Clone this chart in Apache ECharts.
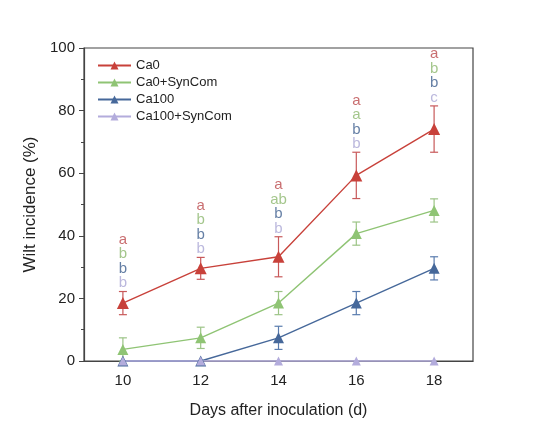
<!DOCTYPE html>
<html lang="en">
<head>
    <meta charset="UTF-8">
    <title>Wilt incidence</title>
    <script src="https://cdn.jsdelivr.net/npm/echarts@6/dist/echarts.min.js"></script>
    <style>
        html, body { margin: 0; padding: 0; background: #fff; }
        #chart { width: 553px; height: 445px; }
    </style>
</head>
<body>
    <div id="chart"></div>
    <script>
        // days after inoculation
        var days = [10, 12, 14, 16, 18];

        // mean wilt incidence (%) and error
        var ca0 = [18.5, 29.6, 33.3, 59.3, 74.1];
        var ca0Err = [3.7, 3.5, 6.4, 7.4, 7.4];
        var ca0Syn = [3.7, 7.4, 18.5, 40.7, 48.1];
        var ca0SynErr = [3.7, 3.4, 3.7, 3.7, 3.7];
        var ca100 = [0, 0, 7.4, 18.5, 29.6];
        var ca100Err = [0, 0, 3.7, 3.7, 3.7];
        var ca100Syn = [0, 0, 0, 0, 0];
        var ca100SynErr = [0, 0, 0, 0, 0];

        // significance letters (top to bottom)
        var letCa0 = ['a', 'a', 'a', 'a', 'a'];
        var letCa0Syn = ['b', 'b', 'ab', 'a', 'b'];
        var letCa100 = ['b', 'b', 'b', 'b', 'b'];
        var letCa100Syn = ['b', 'b', 'b', 'b', 'c'];

        var yTicks = [0, 20, 40, 60, 80, 100];

        var names = ['Ca0', 'Ca0+SynCom', 'Ca100', 'Ca100+SynCom'];
        var colors = ['#c8413a', '#8fc474', '#46689a', '#b3acdc'];
        var barColors = ['#c8595a', '#9cc486', '#5a7cae', '#bab4e0'];
        var letterColors = ['#bb4a4c', '#8db86f', '#3f5f8f', '#aaa6d4'];
        var means = [ca0, ca0Syn, ca100, ca100Syn];
        var errs = [ca0Err, ca0SynErr, ca100Err, ca100SynErr];

        function pairs(arr) {
            var out = [];
            for (var i = 0; i < days.length; i++) out.push([days[i], arr[i]]);
            return out;
        }

        var series = [];
        // error bars
        for (var s = 0; s < 4; s++) {
            var d = [];
            for (var i = 0; i < days.length; i++) d.push([days[i], means[s][i], errs[s][i]]);
            (function (col) {
                series.push({
                    type: 'custom',
                    z: 2,
                    silent: true,
                    data: d,
                    renderItem: function (params, api) {
                        var x = api.value(0), m = api.value(1), e = api.value(2);
                        if (!e) return null;
                        var top = api.coord([x, m + e]);
                        var bot = api.coord([x, m - e]);
                        var w = 4;
                        var st = { stroke: col, lineWidth: 1.2 };
                        return {
                            type: 'group',
                            children: [
                                { type: 'line', shape: { x1: top[0], y1: top[1], x2: bot[0], y2: bot[1] }, style: st },
                                { type: 'line', shape: { x1: top[0] - w, y1: top[1], x2: top[0] + w, y2: top[1] }, style: st },
                                { type: 'line', shape: { x1: bot[0] - w, y1: bot[1], x2: bot[0] + w, y2: bot[1] }, style: st }
                            ]
                        };
                    }
                });
            })(barColors[s]);
        }
        // lines
        for (var s = 0; s < 4; s++) {
            series.push({
                name: names[s],
                type: 'line',
                z: 3,
                data: pairs(means[s]),
                symbol: 'triangle',
                symbolSize: s === 0 ? 12 : (s === 3 ? 9 : 11),
                lineStyle: { color: colors[s], width: 1.4 },
                itemStyle: { color: colors[s] },
                clip: false
            });
        }
        // letters above the Ca0 error bars
        var letterData = [];
        for (var i = 0; i < days.length; i++) {
            letterData.push({
                value: [days[i], ca0[i] + ca0Err[i]],
                label: {
                    formatter: '{r|' + letCa0[i] + '}\n{g|' + letCa0Syn[i] + '}\n{b|' + letCa100[i] + '}\n{p|' + letCa100Syn[i] + '}'
                }
            });
        }
        series.push({
            type: 'scatter',
            symbolSize: 0,
            silent: true,
            z: 4,
            data: letterData,
            label: {
                show: true,
                position: 'top',
                distance: 1,
                align: 'center',
                fontFamily: 'Liberation Sans, Arial, sans-serif',
                fontSize: 15,
                lineHeight: 14.5,
                rich: {
                    r: { color: letterColors[0], fontSize: 15, lineHeight: 14.5, fontFamily: 'Liberation Sans' },
                    g: { color: letterColors[1], fontSize: 15, lineHeight: 14.5, fontFamily: 'Liberation Sans' },
                    b: { color: letterColors[2], fontSize: 15, lineHeight: 14.5, fontFamily: 'Liberation Sans' },
                    p: { color: letterColors[3], fontSize: 15, lineHeight: 14.5, fontFamily: 'Liberation Sans' }
                }
            }
        });

        var chart = echarts.init(document.getElementById('chart'));
        chart.setOption({
            animation: false,
            backgroundColor: '#fff',
            textStyle: { fontFamily: 'Liberation Sans, Arial, sans-serif' },
            grid: {
                left: 84, right: 80, top: 48, bottom: 84,
                show: true, borderColor: '#444', borderWidth: 1.2
            },
            legend: {
                orient: 'vertical',
                left: 92, top: 54,
                itemWidth: 33, itemHeight: 10, itemGap: 4,
                data: names,
                textStyle: { fontSize: 13, color: '#222', fontFamily: 'Liberation Sans' }
            },
            xAxis: {
                type: 'value',
                min: 9, max: 19, interval: 1,
                name: 'Days after inoculation (d)',
                nameLocation: 'middle',
                nameGap: 42,
                nameTextStyle: { fontSize: 16, color: '#222' },
                axisLine: { lineStyle: { color: '#444', width: 1.2 } },
                axisTick: { show: false },
                splitLine: { show: false },
                axisLabel: {
                    customValues: days,
                    fontSize: 15, color: '#222', margin: 12
                }
            },
            yAxis: {
                type: 'value',
                min: 0, max: 100, interval: 20,
                name: 'Wilt incidence (%)',
                nameLocation: 'middle',
                nameGap: 41,
                nameTextStyle: { fontSize: 17, color: '#222' },
                axisLine: { show: true, lineStyle: { color: '#444', width: 1.2 } },
                axisTick: { show: true, length: 5, lineStyle: { color: '#444' } },
                minorTick: { show: true, splitNumber: 2, length: 3, lineStyle: { color: '#444' } },
                splitLine: { show: false },
                axisLabel: {
                    fontSize: 15, color: '#222', margin: 9,
                    customValues: yTicks
                }
            },
            series: series
        });
    </script>
</body>
</html>
